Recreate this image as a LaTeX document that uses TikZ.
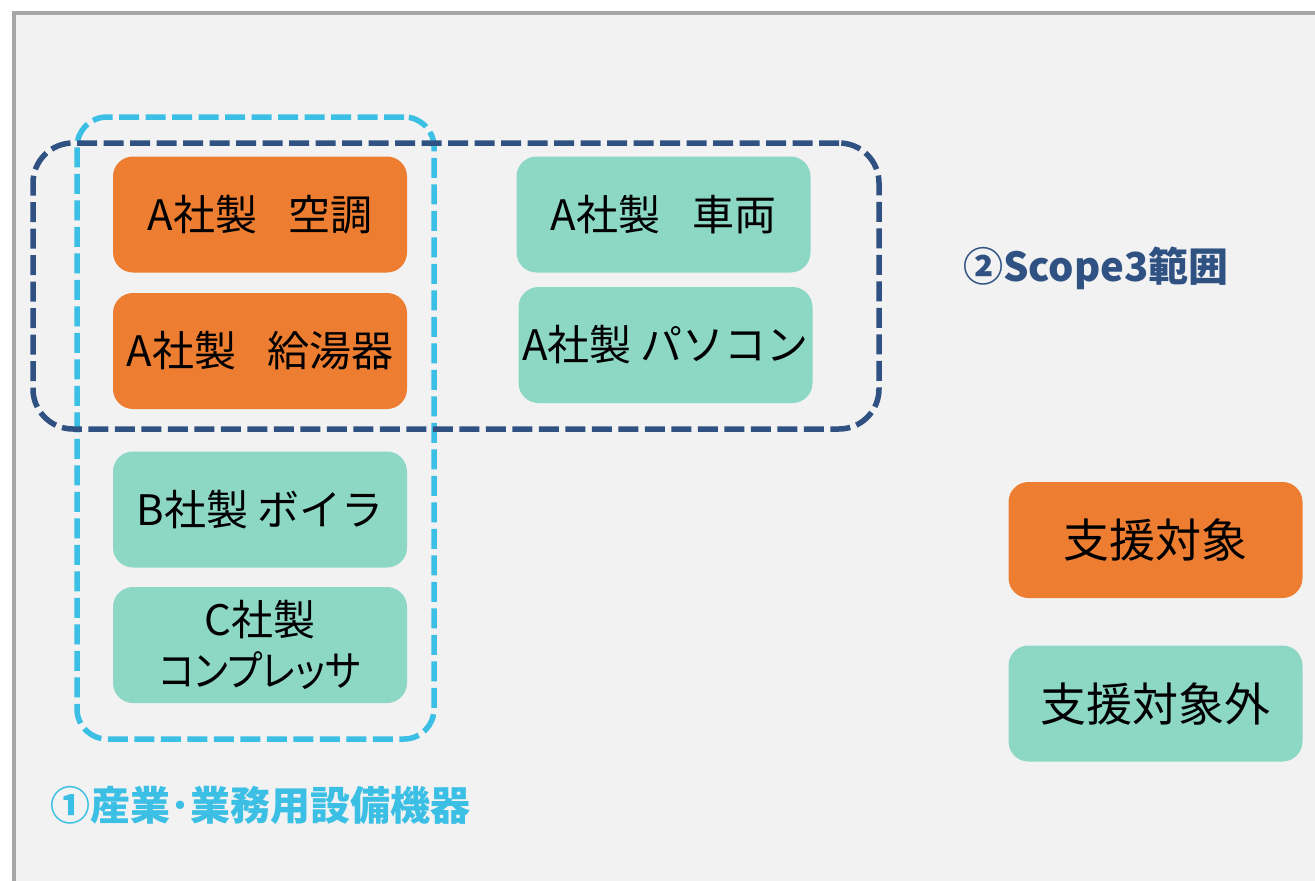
\documentclass[tikz,border=0pt]{standalone}
\usepackage{fontspec}
\usepackage{graphicx}
\setmainfont{Noto Sans CJK JP}
\newfontfamily\jpprop[RawFeature=+palt]{Noto Sans CJK JP}
\newcommand{\widegap}{\hspace{0.75em}}
\definecolor{bggray}{HTML}{F2F2F2}
\definecolor{framegray}{HTML}{A6A6A6}
\definecolor{orangebox}{HTML}{ED7D31}
\definecolor{tealbox}{HTML}{8DD7C5}
\definecolor{lightblue}{HTML}{3BBFE4}
\definecolor{darkblue}{HTML}{2F5283}
\tikzset{
  itembox/.style={draw=none, rounded corners=20pt, minimum width=294pt, minimum height=116pt,
    inner sep=0pt, align=center, text=black, font=\fontsize{42}{51}\selectfont},
  target/.style={itembox, fill=orangebox},
  nontarget/.style={itembox, fill=tealbox},
  legendbox/.style={font=\fontsize{46}{55}\selectfont},
  grpone/.style={draw=lightblue, line width=5.5pt, dash pattern=on 20pt off 6.5pt, rounded corners=30pt, inner sep=0pt, fill=none},
  grptwo/.style={draw=darkblue, line width=5.5pt, dash pattern=on 20pt off 6.5pt, rounded corners=40pt, inner sep=0pt, fill=none},
  grplabel/.style={font=\fontsize{40}{48}\selectfont\bfseries, inner sep=0pt}
}
\begin{document}
\begin{tikzpicture}[x=1pt,y=-1pt]
\useasboundingbox (0,0) rectangle (1315,881);
\fill[white] (0,0) rectangle (1315,881);
\begin{scope}
\clip (0,0) rectangle (1315,881);
\draw[line width=4pt, draw=framegray, fill=bggray] (14,12.5) rectangle (1340,900);
\end{scope}
% boxes
\node[target] (aircon) at (260,214.5) {A社製\widegap 空調};
\node[target] (heater) at (260,351) {A社製\widegap 給湯器};
\node[nontarget] (boiler) at (260,509.5) {B社製 ボイラ};
\node[nontarget] (compressor) at (260,645) {C社製\\\scalebox{0.9}[1]{\jpprop コンプレッサ}};
\node[nontarget] (vehicle) at (663.5,214.5) {A社製\widegap 車両};
\node[nontarget] (pc) at (665.5,345) {A社製 パソコン};
\node[target, legendbox] (legT) at (1155.5,540) {支援対象};
\node[nontarget, legendbox] (legN) at (1155.5,703.5) {支援対象外};
% group frames
\node[grpone, minimum width=357pt, minimum height=622pt] (g1) at (255.5,428) {};
\node[grptwo, minimum width=846pt, minimum height=286pt] (g2) at (456,286) {};
% labels
\node[grplabel, text=lightblue] (l1) at (260,805) {①産業･業務用設備機器};
\node[grplabel, text=darkblue] (l2) at (1096,268) {②Scope3範囲};
\end{tikzpicture}
\end{document}
